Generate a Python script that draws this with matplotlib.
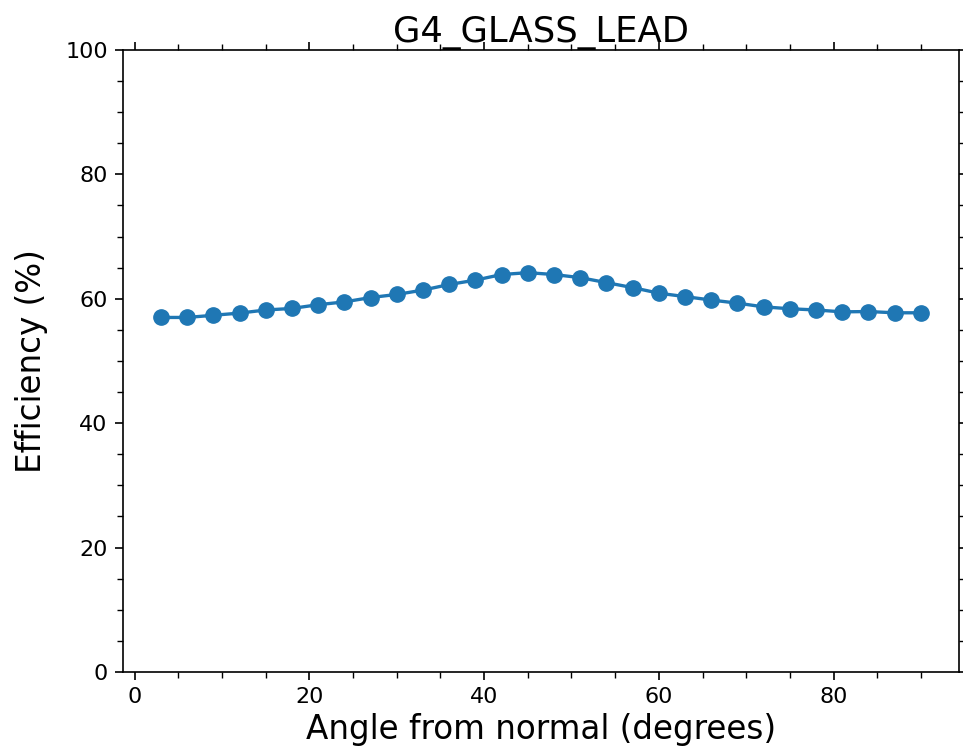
import numpy as np
import matplotlib
matplotlib.use("Agg")
import matplotlib.pyplot as plt
from matplotlib.ticker import MultipleLocator

# angle of incidence (deg) and efficiency (%)
angles = [3, 6, 9, 12, 15, 18, 21, 24, 27, 30,
          33, 36, 39, 42, 45, 48, 51, 54, 57, 60,
          63, 66, 69, 72, 75, 78, 81, 84, 87, 90]
efficiency = [57.0, 57.0, 57.35, 57.7, 58.2, 58.45, 59.05, 59.5, 60.2, 60.7,
              61.4, 62.3, 63.0, 63.9, 64.2, 63.9, 63.4, 62.6, 61.8, 60.9,
              60.35, 59.8, 59.3, 58.7, 58.4, 58.2, 57.9, 57.95, 57.75, 57.75]

fig = plt.figure(figsize=(9.63, 7.53), dpi=100)
ax = fig.add_axes([0.1277, 0.1076, 0.868, 0.826])

ax.plot(angles, efficiency, "-o", color="#1f77b4", lw=2.4, ms=11)

ax.set_ylim(0, 100)
ax.xaxis.set_major_locator(MultipleLocator(20))
ax.xaxis.set_minor_locator(MultipleLocator(5))
ax.yaxis.set_major_locator(MultipleLocator(20))
ax.yaxis.set_minor_locator(MultipleLocator(5))
ax.tick_params(which="both", direction="out", top=True, right=True, labelsize=16)
ax.tick_params(which="major", length=6, width=1.2, pad=5)
ax.tick_params(which="minor", length=4, width=1.0)
for s in ax.spines.values():
    s.set_linewidth(1.2)

ax.set_xlabel("Angle from normal (degrees)", fontsize=23.5)
ax.set_ylabel("Efficiency (%)", fontsize=23.5, labelpad=12)
ax.set_title("G4_GLASS_LEAD", fontsize=25.5)

fig.savefig("out.png", dpi=100)
